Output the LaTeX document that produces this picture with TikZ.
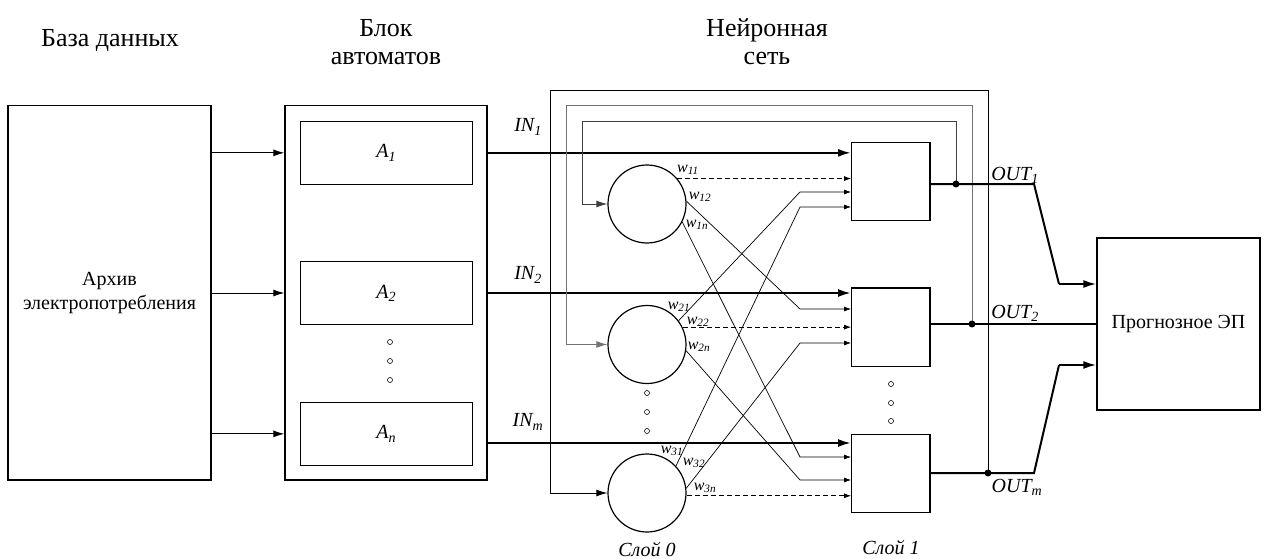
\documentclass[tikz,border=0pt]{standalone}
\usepackage{fontspec}
\setmainfont{Liberation Serif}
\usetikzlibrary{arrows.meta,calc}
\tikzset{
  box/.style={draw,line width=1.3pt,inner sep=0pt,align=center,font=\fontsize{20}{24}\selectfont},
  ibox/.style={draw,line width=1pt,inner sep=0pt,minimum width=172.7pt,minimum height=62.3pt,font=\fontsize{20}{24}\selectfont\itshape},
  lbox/.style={draw,line width=1.3pt,inner sep=0pt,minimum width=78.3pt,minimum height=78.3pt},
  neuron/.style={draw,circle,line width=1.2pt,minimum size=78pt,inner sep=0pt},
  hdr/.style={align=center,font=\fontsize{26}{28}\selectfont},
  lbl/.style={font=\fontsize{20}{22}\selectfont\itshape,inner sep=0pt},
  wl/.style={font=\fontsize{16}{18}\selectfont\itshape,inner sep=0pt},
  dotc/.style={draw,circle,line width=0.6pt,minimum size=5pt,inner sep=0pt},
  inln/.style={line width=2.2pt,-{Latex[length=13pt,width=8pt]}},
  outln/.style={line width=2pt},
  arr/.style={line width=1pt,-{Latex[length=11pt,width=7pt]}},
  sarr/.style={line width=0.7pt,-{Latex[length=7pt,width=5pt]}},
  wd/.style={line width=0.7pt,dash pattern=on 5pt off 3pt,-{Latex[length=7pt,width=5pt]}},
  junc/.style={fill,circle,minimum size=7pt,inner sep=0pt}
}
\begin{document}
\begin{tikzpicture}[x=1pt,y=-1pt]
\useasboundingbox (0,0) rectangle (1264,559);
% headers
\node[hdr] (h1) at (110,41) {База данных};
\node[hdr] (h2) at (386,42) {Блок\\автоматов};
\node[hdr] (h3) at (767,42) {Нейронная\\сеть};
% left blocks
\node[box,minimum width=203pt,minimum height=374.3pt] (db) at (109.5,292.85) {Архив\\электропотребления};
\node[box,minimum width=202pt,minimum height=374.3pt] (blk) at (386,292.85) {};
\node[ibox] (a1) at (386.35,152.85) {A\textsubscript{1}};
\node[ibox] (a2) at (386.35,293) {A\textsubscript{2}};
\node[ibox] (an) at (386.35,433.85) {A\textsubscript{n}};
\node[dotc] (d1) at (390,342) {};
\node[dotc] (d2) at (390,361) {};
\node[dotc] (d3) at (390,380) {};
\draw[arr] (db.east |- a1) -- (blk.west |- a1);
\draw[arr] (db.east |- a2) -- (blk.west |- a2);
\draw[arr] (db.east |- an) -- (blk.west |- an);
% neurons layer 0
\node[neuron] (c1) at (647,204) {};
\node[neuron] (c2) at (647,344.5) {};
\node[neuron] (c3) at (647,493) {};
\node[dotc] (e1) at (647,393) {};
\node[dotc] (e2) at (647,412) {};
\node[dotc] (e3) at (647,431) {};
% layer 1
\node[lbox] (b1) at (890.85,181.35) {};
\node[lbox] (b2) at (890.85,327) {};
\node[lbox] (b3) at (890.85,473.35) {};
\node[dotc] (f1) at (891,384) {};
\node[dotc] (f2) at (891,403) {};
\node[dotc] (f3) at (891,421) {};
% output box
\node[box,minimum width=163pt,minimum height=172pt] (pr) at (1178.5,324) {Прогнозное ЭП};
% inputs IN
\coordinate (inm) at (487,443);
\draw[inln] (blk.east |- a1) -- (b1.west |- a1);
\draw[inln] (blk.east |- a2) -- (b2.west |- a2);
\draw[inln] (inm) -- (b3.west |- inm);
\node[lbl] (l1) at (528,127) {IN\textsubscript{1}};
\node[lbl] (l2) at (528,275) {IN\textsubscript{2}};
\node[lbl] (l3) at (528,422) {IN\textsubscript{m}};
% outputs
\coordinate (j1) at (956,184);
\coordinate (j2) at (972,324);
\coordinate (j3) at (988,473);
% feedback loops
\draw[arr,draw=black!75] (j1) -- (956,122) -- (582,122) |- (c1.west);
\draw[arr,draw=black!55] (j2) -- (972,106) -- (566,106) |- (c2.west);
\draw[arr] (j3) -- (988,91) -- (550,91) |- (c3.west);
\draw[outln] (b1.east |- j1) -- (j1) -- (1034,184) -- (1059,284);
\draw[outln,-{Latex[length=13pt,width=8pt]}] (1059,284) -- (pr.west |- 0,284);
\draw[outln] (b2.east |- j2) -- (j2) -- (pr.west |- j2);
\draw[outln] (b3.east |- j3) -- (j3) -- (1034,473) -- (1059,365);
\draw[outln,-{Latex[length=13pt,width=8pt]}] (1059,365) -- (pr.west |- 0,365);
\node[junc] (jd1) at (j1) {};
\node[junc] (jd2) at (j2) {};
\node[junc] (jd3) at (j3) {};
\node[lbl] (o1) at (1015,175) {OUT\textsubscript{1}};
\node[lbl] (o2) at (1015,313) {OUT\textsubscript{2}};
\node[lbl] (o3) at (1017,487) {OUT\textsubscript{m}};
% weights neuron 1
\draw[wd] (c1.40) -- (b1.west |- c1.40);
\draw[sarr] (c1.4) -- (800,309) -- (b2.west |- 0,309);
\draw[sarr] (c1.-27) -- (800,457) -- (b3.west |- 0,457);
% neuron 2
\draw[sarr] (c2.37) -- (800,192) -- (b1.west |- 0,192);
\draw[wd] (c2.26) -- (b2.west |- c2.26);
\draw[sarr] (c2.-9) -- (800,480) -- (b3.west |- 0,480);
% neuron 3
\draw[sarr] (c3.43) -- (800,207) -- (b1.west |- 0,207);
\draw[sarr] (c3.7) -- (800,343) -- (b2.west |- 0,343);
\draw[wd] (c3.-4) -- (b3.west |- c3.-4);
% weight labels
\node[wl] (w11) at (688,170) {w\textsubscript{11}};
\node[wl] (w12) at (700,197) {w\textsubscript{12}};
\node[wl] (w1n) at (697,225) {w\textsubscript{1n}};
\node[wl] (w21) at (679,307) {w\textsubscript{21}};
\node[wl] (w22) at (698,322) {w\textsubscript{22}};
\node[wl] (w2n) at (699,347) {w\textsubscript{2n}};
\node[wl] (w31) at (672,451) {w\textsubscript{31}};
\node[wl] (w32) at (694,463) {w\textsubscript{32}};
\node[wl] (w3n) at (705,488) {w\textsubscript{3n}};
% layer labels
\node[lbl] (s0) at (647,549) {Слой 0};
\node[lbl] (s1) at (891,547) {Слой 1};
\end{tikzpicture}
\end{document}
